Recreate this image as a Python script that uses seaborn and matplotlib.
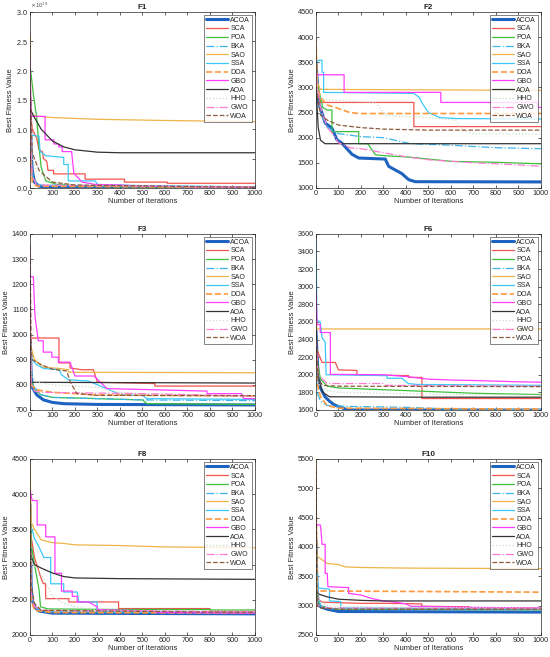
import matplotlib
matplotlib.use('Agg')

import pandas as pd
import matplotlib.pyplot as plt
import seaborn as sns
from matplotlib.ticker import ScalarFormatter

# algorithm order and style
algos = ['ACOA', 'SCA', 'POA', 'BKA', 'SAO', 'SSA', 'DOA', 'GBO', 'AOA', 'HHO', 'GWO', 'WOA']
colors = ['#1f63c0', '#f2544e', '#3cc03c', '#3bb4e8', '#efb54a', '#3cc8fa',
          '#ff9a3c', '#ff3cff', '#333333', '#c8dcc8', '#ff7ad0', '#8c5a3c']
styles = ['-', '-', '-', '-.', '-', '-', '--', '-', '-', ':', '-.', '--']
widths = [2.2, 0.9, 0.9, 0.9, 0.9, 0.9, 1.2, 0.9, 0.9, 0.9, 0.9, 0.9]

# convergence curves, (iteration, best fitness) breakpoints
F1 = {
    'ACOA': [(0, 1.5e10), (5, 0.6e10), (10, 0.3e10), (20, 0.1e10), (40, 0.03e10), (100, 0.01e10), (1000, 0.005e10)],
    'SCA': [(0, 1.4e10), (10, 1.0e10), (30, 0.85e10), (40, 0.65e10), (55, 0.62e10), (60, 0.5e10), (75, 0.45e10),
            (80, 0.3e10), (105, 0.3e10), (105, 0.24e10), (245, 0.24e10), (245, 0.15e10), (420, 0.15e10),
            (420, 0.1e10), (610, 0.1e10), (610, 0.08e10), (1000, 0.08e10)],
    'POA': [(0, 2.1e10), (15, 1.6e10), (30, 1.2e10), (40, 0.7e10), (50, 0.35e10), (70, 0.12e10), (120, 0.06e10),
            (200, 0.04e10), (400, 0.02e10), (1000, 0.01e10)],
    'BKA': [(0, 1.4e10), (5, 0.5e10), (15, 0.15e10), (40, 0.05e10), (1000, 0.01e10)],
    'SAO': [(0, 2.6e10), (3, 1.3e10), (10, 1.23e10), (100, 1.2e10), (300, 1.17e10), (600, 1.15e10), (1000, 1.13e10)],
    'SSA': [(0, 1.5e10), (5, 0.9e10), (40, 0.88e10), (45, 0.62e10), (70, 0.55e10), (150, 0.52e10), (150, 0.4e10),
            (170, 0.4e10), (170, 0.12e10), (290, 0.12e10), (300, 0.06e10), (500, 0.04e10), (1000, 0.02e10)],
    'DOA': [(0, 2.6e10), (3, 0.5e10), (10, 0.1e10), (30, 0.03e10), (1000, 0.01e10)],
    'GBO': [(0, 2.2e10), (5, 1.22e10), (67, 1.22e10), (67, 0.82e10), (106, 0.82e10), (106, 0.75e10), (128, 0.75e10),
            (128, 0.7e10), (143, 0.7e10), (143, 0.62e10), (185, 0.62e10), (195, 0.25e10), (232, 0.1e10),
            (290, 0.06e10), (400, 0.05e10), (500, 0.03e10), (770, 0.02e10), (1000, 0.01e10)],
    'AOA': [(0, 1.35e10), (20, 1.2e10), (50, 1.0e10), (100, 0.8e10), (150, 0.7e10), (200, 0.65e10),
            (300, 0.61e10), (400, 0.6e10), (1000, 0.6e10)],
    'HHO': [(0, 1.4e10), (10, 0.5e10), (30, 0.25e10), (100, 0.1e10), (200, 0.05e10), (1000, 0.01e10)],
    'GWO': [(0, 2.2e10), (5, 0.6e10), (10, 0.2e10), (30, 0.05e10), (1000, 0.01e10)],
    'WOA': [(0, 1.8e10), (10, 0.6e10), (40, 0.3e10), (70, 0.2e10), (100, 0.1e10), (200, 0.05e10), (1000, 0.01e10)],
}

F2 = {
    'ACOA': [(0, 3500), (12, 2690), (41, 2290), (71, 2190), (93, 1960), (115, 1890), (160, 1670), (190, 1595),
             (308, 1575), (323, 1430), (382, 1285), (412, 1165), (441, 1125), (1000, 1120)],
    'SCA': [(0, 3300), (10, 2900), (20, 2700), (435, 2700), (435, 2220), (1000, 2220)],
    'POA': [(0, 3300), (10, 3000), (30, 2600), (49, 2550), (71, 2550), (71, 2120), (190, 2120), (190, 1880),
            (230, 1880), (264, 1660), (308, 1640), (412, 1614), (604, 1528), (800, 1510), (1000, 1480)],
    'BKA': [(0, 3000), (20, 2500), (50, 2200), (100, 2080), (200, 2020), (300, 2000), (400, 1900), (420, 1880),
            (600, 1850), (800, 1800), (1000, 1780)],
    'SAO': [(0, 3700), (5, 3100), (20, 2960), (1000, 2940)],
    'SSA': [(0, 3500), (12, 3540), (27, 3540), (27, 3300), (34, 3300), (34, 2900), (434, 2880), (460, 2800),
            (470, 2700), (500, 2500), (550, 2400), (620, 2380), (1000, 2370)],
    'DOA': [(0, 4000), (5, 3000), (20, 2800), (50, 2650), (100, 2580), (150, 2500), (190, 2480), (1000, 2480)],
    'GBO': [(0, 3300), (5, 3250), (125, 3250), (125, 2900), (555, 2900), (555, 2700), (985, 2700), (985, 2600),
            (1000, 2600)],
    'AOA': [(0, 3000), (10, 2200), (20, 1950), (40, 1880), (1000, 1880)],
    'HHO': [(0, 3300), (10, 2800), (50, 2750), (264, 2700), (308, 2450), (400, 2420), (500, 2400), (620, 2350),
            (650, 2150), (693, 2080), (1000, 2070)],
    'GWO': [(0, 3200), (20, 2600), (50, 2200), (80, 2050), (100, 1900), (150, 1800), (200, 1780), (300, 1700),
            (400, 1620), (500, 1560), (600, 1530), (700, 1500), (900, 1460), (1000, 1430)],
    'WOA': [(0, 3000), (20, 2450), (50, 2350), (100, 2250), (200, 2200), (300, 2170), (500, 2150), (1000, 2150)],
}

F3 = {
    'ACOA': [(0, 980), (5, 850), (10, 790), (30, 760), (60, 740), (100, 730), (150, 725), (300, 722), (1000, 720)],
    'SCA': [(0, 990), (7, 986), (129, 986), (129, 887), (178, 887), (178, 867), (230, 860), (282, 860),
            (300, 810), (555, 805), (555, 795), (1000, 795)],
    'POA': [(0, 950), (5, 820), (20, 780), (50, 760), (100, 750), (300, 745), (500, 740), (520, 725), (1000, 722)],
    'BKA': [(0, 960), (10, 800), (50, 760), (100, 750), (300, 745), (500, 740), (1000, 737)],
    'SAO': [(0, 970), (5, 950), (20, 900), (59, 870), (130, 865), (171, 860), (171, 850), (1000, 848)],
    'SSA': [(0, 960), (10, 900), (30, 880), (60, 865), (130, 860), (140, 840), (170, 820), (260, 815), (300, 800),
            (380, 770), (400, 760), (500, 758), (520, 745), (1000, 742)],
    'DOA': [(0, 980), (5, 800), (30, 780), (100, 770), (300, 760), (1000, 755)],
    'GBO': [(0, 1240), (3, 1230), (15, 1230), (22, 1075), (37, 975), (59, 975), (59, 930), (97, 930), (97, 910),
            (126, 910), (126, 890), (178, 890), (190, 860), (200, 835), (285, 835), (342, 785), (787, 775),
            (787, 765), (940, 765), (950, 745), (1000, 745)],
    'AOA': [(0, 980), (3, 810), (1000, 807)],
    'HHO': [(0, 900), (10, 830), (30, 810), (100, 800), (300, 790), (400, 770), (500, 760), (1000, 755)],
    'GWO': [(0, 1360), (5, 800), (20, 775), (50, 770), (500, 765), (1000, 755)],
    'WOA': [(0, 1350), (5, 950), (10, 900), (50, 880), (100, 862), (163, 855), (180, 810), (208, 765),
            (300, 758), (1000, 757)],
}

F6 = {
    'ACOA': [(0, 2500), (5, 2200), (10, 2000), (20, 1850), (40, 1750), (60, 1700), (80, 1660), (100, 1640),
             (130, 1610), (150, 1600), (1000, 1598)],
    'SCA': [(0, 2300), (10, 2250), (27, 2140), (86, 2140), (100, 2055), (182, 2050), (182, 2000), (412, 1990),
            (412, 1970), (471, 1970), (471, 1730), (1000, 1730)],
    'POA': [(0, 2200), (10, 2100), (20, 1950), (50, 1870), (100, 1850), (200, 1840), (300, 1830), (400, 1820),
            (500, 1810), (700, 1790), (1000, 1775)],
    'BKA': [(0, 2400), (5, 1800), (20, 1700), (50, 1650), (150, 1640), (400, 1630), (600, 1610), (1000, 1605)],
    'SAO': [(0, 2900), (3, 2520), (1000, 2520)],
    'SSA': [(0, 3560), (4, 2620), (19, 2600), (27, 2420), (41, 2370), (45, 2000), (316, 1990), (316, 1960),
            (382, 1960), (410, 1900), (450, 1890), (1000, 1880)],
    'DOA': [(0, 2600), (5, 1900), (20, 1750), (50, 1650), (100, 1620), (1000, 1610)],
    'GBO': [(0, 2950), (5, 2570), (19, 2570), (19, 2480), (64, 2480), (64, 2005), (300, 2000), (400, 1980),
            (500, 1950), (600, 1940), (700, 1935), (900, 1920), (1000, 1915)],
    'AOA': [(0, 2500), (10, 1950), (30, 1800), (60, 1750), (500, 1745), (1000, 1745)],
    'HHO': [(0, 2300), (10, 1900), (50, 1820), (100, 1800), (300, 1790), (500, 1780), (1000, 1770)],
    'GWO': [(0, 2400), (10, 2000), (50, 1900), (300, 1900), (310, 1880), (1000, 1870)],
    'WOA': [(0, 2300), (10, 1950), (30, 1880), (100, 1870), (1000, 1865)],
}

F8 = {
    'ACOA': [(0, 3850), (5, 2700), (10, 2500), (20, 2400), (40, 2340), (100, 2310), (1000, 2300)],
    'SCA': [(0, 3500), (10, 3300), (20, 3100), (30, 3000), (50, 2800), (59, 2730), (69, 2730), (70, 2516),
            (173, 2516), (173, 2469), (394, 2469), (394, 2375), (800, 2375), (800, 2338), (1000, 2338)],
    'POA': [(0, 4100), (5, 3300), (20, 3000), (40, 2650), (47, 2400), (80, 2370), (400, 2362), (800, 2362),
            (810, 2355), (1000, 2355)],
    'BKA': [(0, 3700), (5, 2600), (20, 2400), (50, 2330), (1000, 2310)],
    'SAO': [(0, 4450), (5, 3600), (20, 3500), (50, 3350), (100, 3310), (150, 3300), (200, 3280), (400, 3270),
            (600, 3250), (1000, 3240)],
    'SSA': [(0, 3500), (10, 3500), (18, 3384), (40, 3250), (62, 3100), (92, 3100), (92, 2727), (150, 2727),
            (150, 2610), (210, 2610), (217, 2469), (298, 2469), (298, 2330), (1000, 2320)],
    'DOA': [(0, 4450), (5, 2500), (20, 2350), (100, 2320), (1000, 2310)],
    'GBO': [(0, 4050), (10, 3909), (32, 3909), (32, 3562), (70, 3562), (70, 3393), (111, 3393), (111, 2877),
            (140, 2877), (140, 2624), (188, 2624), (188, 2549), (210, 2549), (210, 2469), (260, 2469),
            (300, 2399), (300, 2360), (560, 2340), (560, 2320), (1000, 2310)],
    'AOA': [(0, 3150), (20, 3000), (50, 2950), (100, 2880), (150, 2830), (200, 2810), (400, 2800), (1000, 2790)],
    'HHO': [(0, 3200), (10, 3000), (30, 2950), (60, 2800), (100, 2550), (150, 2450), (200, 2400), (300, 2350),
            (1000, 2340)],
    'GWO': [(0, 3400), (5, 2600), (20, 2400), (50, 2350), (1000, 2330)],
    'WOA': [(0, 3600), (5, 2700), (20, 2450), (50, 2350), (1000, 2320)],
}

F10 = {
    'ACOA': [(0, 4100), (5, 3200), (10, 3050), (20, 2980), (50, 2940), (100, 2900), (1000, 2890)],
    'SCA': [(0, 4100), (5, 3300), (10, 3100), (30, 3060), (100, 3050), (200, 3040), (300, 3040), (470, 3030),
            (470, 2990), (680, 2980), (690, 2960), (1000, 2960)],
    'POA': [(0, 3800), (5, 3100), (20, 3000), (50, 2960), (100, 2940), (1000, 2930)],
    'BKA': [(0, 4000), (5, 3300), (20, 3000), (60, 2950), (1000, 2940)],
    'SAO': [(0, 5500), (3, 3850), (20, 3800), (50, 3720), (100, 3700), (130, 3660), (200, 3650), (400, 3640),
            (1000, 3630)],
    'SSA': [(0, 4150), (5, 3550), (10, 3300), (60, 3280), (60, 3080), (110, 3070), (110, 2960), (1000, 2950)],
    'DOA': [(0, 5000), (5, 3250), (1000, 3230)],
    'GBO': [(0, 4400), (4, 4375), (19, 4375), (22, 4300), (27, 4045), (41, 4045), (41, 3550), (50, 3550),
            (53, 3324), (100, 3315), (145, 3307), (145, 3210), (200, 3180), (250, 3120), (300, 3080),
            (350, 3060), (400, 3030), (420, 2990), (700, 2970), (1000, 2960)],
    'AOA': [(0, 3250), (10, 3200), (50, 3150), (100, 3110), (200, 3090), (300, 3080), (1000, 3080)],
    'HHO': [(0, 3600), (10, 3100), (50, 3000), (100, 2990), (400, 2970), (1000, 2960)],
    'GWO': [(0, 3100), (10, 3000), (50, 2960), (1000, 2950)],
    'WOA': [(0, 5300), (5, 3000), (20, 2960), (100, 2940), (1000, 2940)],
}

panels = [
    ('F1', F1, (0, 3e10), [0, 0.5e10, 1e10, 1.5e10, 2e10, 2.5e10, 3e10]),
    ('F2', F2, (1000, 4500), list(range(1000, 4501, 500))),
    ('F3', F3, (700, 1400), list(range(700, 1401, 100))),
    ('F6', F6, (1600, 3600), list(range(1600, 3601, 200))),
    ('F8', F8, (2000, 4500), list(range(2000, 4501, 500))),
    ('F10', F10, (2500, 5500), list(range(2500, 5501, 500))),
]

sns.set_style('ticks')
plt.rcParams['font.family'] = ['Liberation Sans', 'DejaVu Sans']

fig = plt.figure(figsize=(5.5, 6.57), dpi=100)

lefts = [0.0545, 0.5745]
bottoms = [0.7139, 0.376, 0.0335]
w, h = 0.409, 0.268

for i, (name, curves, ylim, yticks) in enumerate(panels):
    ax = fig.add_axes([lefts[i % 2], bottoms[i // 2], w, h])
    for a, c, ls, lw in zip(algos, colors, styles, widths):
        df = pd.DataFrame(curves[a], columns=['iter', 'fit'])
        sns.lineplot(data=df, x='iter', y='fit', ax=ax, color=c, linestyle=ls, linewidth=lw,
                     estimator=None, sort=False, label=a)
    ax.set_xlim(0, 1000)
    ax.set_ylim(*ylim)
    ax.set_xticks(range(0, 1001, 100))
    ax.set_yticks(yticks)
    ax.set_title(name, fontsize=5.8, fontweight='bold', pad=2)
    ax.set_xlabel('Number of Iterations', fontsize=5.5, labelpad=1)
    ax.set_ylabel('Best Fitness Value', fontsize=5.5, labelpad=1.5)
    ax.tick_params(direction='in', length=2, width=0.5, labelsize=5.2, top=True, right=True, pad=1.5)
    for s in ax.spines.values():
        s.set_linewidth(0.5)
        s.set_color('#262626')
    if name == 'F1':
        fmt = ScalarFormatter(useMathText=True)
        fmt.set_powerlimits((0, 0))
        ax.yaxis.set_major_formatter(fmt)
        ax.yaxis.get_offset_text().set_fontsize(4.3)
        ax.yaxis.get_offset_text().set_color('#555555')
    leg = ax.legend(loc='upper right', fontsize=5, handlelength=3.1, handletextpad=0.4,
                    labelspacing=0.25, borderpad=0.3, frameon=True, fancybox=False,
                    borderaxespad=0.4)
    leg.get_frame().set_edgecolor('#262626')
    leg.get_frame().set_linewidth(0.5)

fig.savefig('out.png', dpi=100)
plt.close()
